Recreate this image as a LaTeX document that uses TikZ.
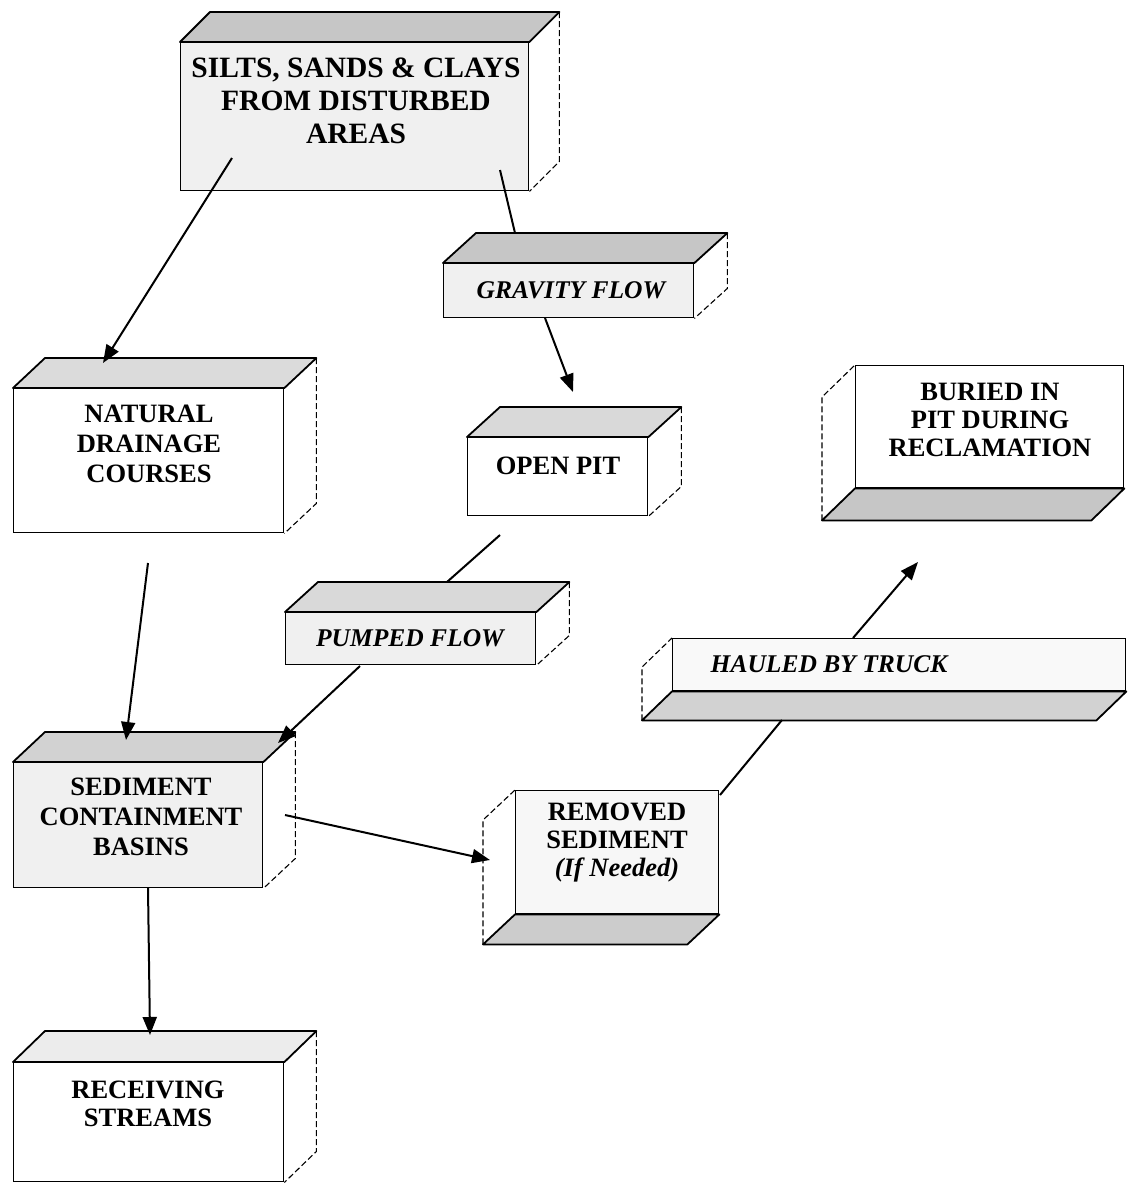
\documentclass[tikz,border=0pt]{standalone}
\usepackage{fontspec}
\setmainfont{Liberation Serif}
\usetikzlibrary{arrows.meta,calc}
\newcommand\cubetop[4]{%
  \filldraw[fill=#4, line width=1.8pt, line join=round] (#1.north west) -- ++(#2,#3) -- ($(#1.north east)+(#2,#3)$) -- (#1.north east) -- cycle;
  \draw[sidedash] ($(#1.north east)+(#2,#3)$) -- ($(#1.south east)+(#2,#3)$) -- (#1.south east);
}
\newcommand\cubebot[4]{%
  \filldraw[fill=#4, line width=1.8pt, line join=round] (#1.south west) -- ++(#2,#3) -- ($(#1.south east)+(#2,#3)$) -- (#1.south east) -- cycle;
  \draw[sidedash] ($(#1.south west)+(#2,#3)$) -- ($(#1.north west)+(#2,#3)$) -- (#1.north west);
}
\begin{document}
\begin{tikzpicture}[x=1pt,y=-1pt,
  front/.style={draw=black, line width=1.4pt, inner sep=0pt, anchor=north west},
  sidedash/.style={line width=1.1pt, dash pattern=on 6pt off 3pt},
  lbl/.style={align=center, inner sep=0pt, font=\fontsize{26.5}{30}\selectfont\bfseries},
  ilbl/.style={align=center, inner sep=0pt, font=\fontsize{25.5}{29}\selectfont\bfseries\itshape},
  arr/.style={line width=2pt, -{Triangle[length=18pt,width=14pt]}},
  ln/.style={line width=2pt}]
\useasboundingbox (0,0) rectangle (1132,1183);

% front faces
\node[front, fill=gray!12, minimum width=348pt, minimum height=148pt] (silts) at (180,42) {};
\node[front, fill=gray!12, minimum width=250pt, minimum height=54pt] (gravity) at (443,263) {};
\node[front, fill=white, minimum width=270pt, minimum height=144pt] (natural) at (13,388) {};
\node[front, fill=white, minimum width=180pt, minimum height=78pt] (openpit) at (467,437) {};
\node[front, fill=white, minimum width=268pt, minimum height=122pt] (buried) at (855,365) {};
\node[front, fill=gray!12, minimum width=250pt, minimum height=52pt] (pumped) at (285,612) {};
\node[front, fill=gray!5, minimum width=453pt, minimum height=52pt] (hauled) at (672,638) {};
\node[front, fill=gray!12, minimum width=249pt, minimum height=125pt] (sediment) at (13,762) {};
\node[front, fill=gray!6, minimum width=203pt, minimum height=123pt] (removed) at (515,790) {};
\node[front, fill=white, minimum width=270pt, minimum height=119pt] (receiving) at (13,1062) {};

% top / bottom faces
\cubetop{silts}{30}{-30}{gray!45}
\cubetop{gravity}{33}{-30}{gray!45}
\cubetop{natural}{32}{-30}{gray!28}
\cubetop{openpit}{33}{-30}{gray!30}
\cubetop{pumped}{33}{-30}{gray!30}
\cubetop{sediment}{32}{-30}{gray!35}
\cubetop{receiving}{32}{-31}{gray!15}
\cubebot{buried}{-33}{32}{gray!45}
\cubebot{hauled}{-30}{29}{gray!35}
\cubebot{removed}{-32}{30}{gray!40}

% texts
\node[lbl, font=\fontsize{29.5}{33}\selectfont\bfseries] (siltsT) at (356,101) {SILTS, SANDS \& CLAYS\\FROM DISTURBED\\AREAS};
\node[ilbl] (gravityT) at (571,290) {GRAVITY FLOW};
\node[lbl] (naturalT) at (149,444) {NATURAL\\DRAINAGE\\COURSES};
\node[lbl] (openpitT) at (558,466) {OPEN PIT};
\node[lbl, font=\fontsize{26.5}{28}\selectfont\bfseries] (buriedT) at (990,420) {BURIED IN\\PIT DURING\\RECLAMATION};
\node[ilbl] (pumpedT) at (410,638) {PUMPED FLOW};
\node[ilbl] (hauledT) at (829,664) {HAULED BY TRUCK};
\node[lbl] (sedimentT) at (141,817) {SEDIMENT\\CONTAINMENT\\BASINS};
\node[lbl, font=\fontsize{26.5}{28}\selectfont\bfseries] (removedT) at (617,843) {REMOVED\\SEDIMENT\\{\itshape (If Needed)}};
\node[lbl, font=\fontsize{26.5}{28}\selectfont\bfseries] (receivingT) at (148,1104) {RECEIVING\\STREAMS};

% connector end points
\coordinate (c1a) at (232,158); \coordinate (c1b) at (103,363);
\coordinate (c2a) at (500,170); \coordinate (c2b) at (515,233);
\coordinate (c3a) at (545,318); \coordinate (c3b) at (573,392);
\coordinate (c4a) at (500,535); \coordinate (c4b) at (447,582);
\coordinate (c5a) at (360,666); \coordinate (c5b) at (278,743);
\coordinate (c6a) at (148,563); \coordinate (c6b) at (126,740);
\coordinate (c7a) at (148,888); \coordinate (c7b) at (150,1035);
\coordinate (c8a) at (285,815); \coordinate (c8b) at (490,860);
\coordinate (c9a) at (720,795); \coordinate (c9b) at (782,720);
\coordinate (c10a) at (853,638); \coordinate (c10b) at (918,562);

\draw[arr] (c1a) -- (c1b);
\draw[ln] (c2a) -- (c2b);
\draw[arr] (c3a) -- (c3b);
\draw[ln] (c4a) -- (c4b);
\draw[arr] (c5a) -- (c5b);
\draw[arr] (c6a) -- (c6b);
\draw[arr] (c7a) -- (c7b);
\draw[arr] (c8a) -- (c8b);
\draw[ln] (c9a) -- (c9b);
\draw[arr] (c10a) -- (c10b);
\end{tikzpicture}
\end{document}
